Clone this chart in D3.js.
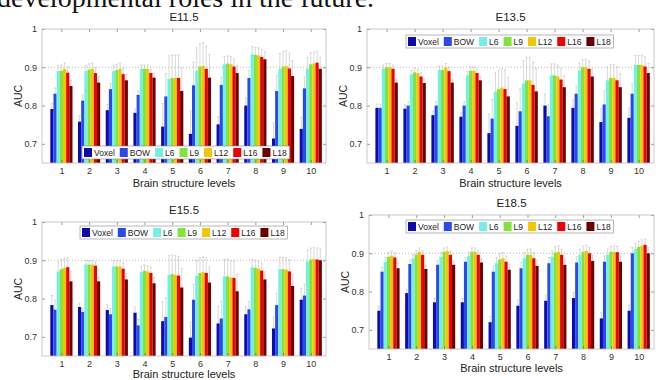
<!DOCTYPE html>
<html>
<head>
<meta charset="utf-8">
<script src="https://cdn.jsdelivr.net/npm/d3@7"></script>
<style>
  body { margin: 0; background: #fff; }
  svg text { font-family: "Liberation Sans", Arial, sans-serif; fill: #222; }
</style>
</head>
<body>
<svg id="fig" width="662" height="380"></svg>
<script>
// brain structure levels on the x axis
const levels = [1, 2, 3, 4, 5, 6, 7, 8, 9, 10];
const methods = ["Voxel", "BOW", "L6", "L9", "L12", "L16", "L18"];
const methodColors = ["#0b0bb0", "#2b48ee", "#72efe6", "#80e43c", "#f4c600", "#f00000", "#6a0000"];
const yTicks = [0.7, 0.8, 0.9, 1];

// AUC per method (rows) and level (columns)
const aucE11 = [
  [0.791, 0.758, 0.788, 0.781, 0.745, 0.726, 0.751, 0.800, 0.714, 0.739],
  [0.831, 0.813, 0.843, 0.828, 0.824, 0.853, 0.854, 0.872, 0.838, 0.845],
  [0.890, 0.890, 0.890, 0.896, 0.870, 0.891, 0.908, 0.934, 0.896, 0.896],
  [0.891, 0.894, 0.893, 0.896, 0.872, 0.902, 0.910, 0.932, 0.902, 0.908],
  [0.896, 0.896, 0.896, 0.896, 0.872, 0.904, 0.908, 0.931, 0.903, 0.910],
  [0.886, 0.885, 0.882, 0.885, 0.872, 0.896, 0.902, 0.927, 0.897, 0.912],
  [0.851, 0.860, 0.866, 0.873, 0.838, 0.873, 0.885, 0.921, 0.877, 0.896]
];
const aucE13 = [
  [0.794, 0.792, 0.775, 0.771, 0.728, 0.747, 0.800, 0.794, 0.757, 0.768],
  [0.794, 0.800, 0.800, 0.800, 0.766, 0.785, 0.772, 0.831, 0.803, 0.831],
  [0.896, 0.882, 0.893, 0.879, 0.837, 0.858, 0.879, 0.891, 0.866, 0.906],
  [0.900, 0.887, 0.893, 0.891, 0.843, 0.866, 0.879, 0.900, 0.872, 0.906],
  [0.900, 0.885, 0.900, 0.891, 0.847, 0.866, 0.876, 0.900, 0.872, 0.906],
  [0.896, 0.876, 0.890, 0.885, 0.843, 0.854, 0.868, 0.896, 0.866, 0.902],
  [0.860, 0.859, 0.860, 0.866, 0.824, 0.837, 0.848, 0.876, 0.848, 0.885]
];
const aucE15 = [
  [0.783, 0.778, 0.770, 0.763, 0.741, 0.698, 0.735, 0.759, 0.722, 0.797],
  [0.771, 0.765, 0.759, 0.730, 0.752, 0.797, 0.748, 0.772, 0.783, 0.808],
  [0.871, 0.889, 0.884, 0.869, 0.862, 0.860, 0.858, 0.882, 0.877, 0.897],
  [0.877, 0.889, 0.884, 0.873, 0.864, 0.867, 0.858, 0.880, 0.877, 0.902],
  [0.880, 0.889, 0.884, 0.871, 0.862, 0.869, 0.855, 0.878, 0.876, 0.903],
  [0.882, 0.886, 0.878, 0.867, 0.860, 0.867, 0.854, 0.873, 0.871, 0.902],
  [0.845, 0.845, 0.850, 0.840, 0.829, 0.842, 0.819, 0.850, 0.833, 0.900]
];
const aucE18 = [
  [0.750, 0.796, 0.772, 0.772, 0.720, 0.763, 0.776, 0.783, 0.730, 0.750],
  [0.852, 0.872, 0.870, 0.878, 0.852, 0.861, 0.874, 0.876, 0.878, 0.900],
  [0.878, 0.887, 0.891, 0.893, 0.874, 0.887, 0.891, 0.896, 0.896, 0.911],
  [0.891, 0.897, 0.904, 0.904, 0.884, 0.896, 0.902, 0.904, 0.904, 0.917],
  [0.894, 0.904, 0.906, 0.904, 0.887, 0.896, 0.904, 0.906, 0.903, 0.920],
  [0.889, 0.896, 0.896, 0.896, 0.878, 0.887, 0.896, 0.900, 0.903, 0.922],
  [0.861, 0.859, 0.870, 0.876, 0.857, 0.867, 0.870, 0.880, 0.878, 0.900]
];

// error bar half-widths per level
const errE11 = [0.015, 0.015, 0.015, 0.010, 0.060, 0.060, 0.020, 0.020, 0.040, 0.030];
const errE13 = [0.010, 0.010, 0.010, 0.010, 0.050, 0.060, 0.030, 0.020, 0.035, 0.025];
const errE15 = [0.025, 0.010, 0.015, 0.015, 0.050, 0.040, 0.045, 0.020, 0.030, 0.030];
const errE18 = [0.012, 0.010, 0.010, 0.010, 0.015, 0.015, 0.015, 0.015, 0.015, 0.015];

const panels = [
  {title: "E11.5", auc: aucE11, err: errE11, l: 42, r: 326, t: 29, b: 163, lx: 82, ly: 146, xlab: 24},
  {title: "E13.5", auc: aucE13, err: errE13, l: 367, r: 654, t: 29, b: 163, lx: 406, ly: 35, xlab: 24},
  {title: "E15.5", auc: aucE15, err: errE15, l: 42, r: 326, t: 222, b: 356, lx: 80, ly: 226, xlab: 22},
  {title: "E18.5", auc: aucE18, err: errE18, l: 369, r: 654, t: 215, b: 349, lx: 406, ly: 220, xlab: 23}
];

const svg = d3.select("#fig");

// caption line of the page above the figure, cut by the top edge
svg.append("text")
  .attr("x", -3).attr("y", 7)
  .style("font-family", "'Liberation Serif', 'DejaVu Serif', serif")
  .style("font-size", "28px")
  .style("fill", "#111")
  .text("developmental roles in the future.");

panels.forEach(function (p, pi) {
  const x = d3.scaleLinear().domain([0.3, 10.55]).range([p.l, p.r]);
  const y = d3.scaleLinear().domain([0.65, 1]).range([p.b, p.t]);
  const groupW = 0.8;
  const barW = groupW / methods.length;

  const g = svg.append("g");

  g.append("clipPath").attr("id", "clip" + pi)
    .append("rect")
    .attr("x", p.l).attr("y", p.t)
    .attr("width", p.r - p.l).attr("height", p.b - p.t);

  // dotted reference line at 0.9
  g.append("line")
    .attr("x1", p.l).attr("x2", p.r)
    .attr("y1", y(0.9)).attr("y2", y(0.9))
    .attr("stroke", "#999").attr("stroke-width", 0.7)
    .attr("stroke-dasharray", "1,2");

  const plot = g.append("g").attr("clip-path", "url(#clip" + pi + ")");

  methods.forEach(function (m, mi) {
    const off = (mi - (methods.length - 1) / 2) * barW;
    const vals = p.auc[mi];

    plot.selectAll(null)
      .data(levels)
      .enter().append("line")
      .attr("x1", (d) => x(d + off)).attr("x2", (d) => x(d + off))
      .attr("y1", (d, i) => y(vals[i]))
      .attr("y2", (d, i) => y(vals[i] + p.err[i]))
      .attr("stroke", "#bdbdbd").attr("stroke-width", 0.6);

    plot.selectAll(null)
      .data(levels)
      .enter().append("line")
      .attr("x1", (d) => x(d + off - barW * 0.35)).attr("x2", (d) => x(d + off + barW * 0.35))
      .attr("y1", (d, i) => y(vals[i] + p.err[i]))
      .attr("y2", (d, i) => y(vals[i] + p.err[i]))
      .attr("stroke", "#bdbdbd").attr("stroke-width", 0.6);

    plot.selectAll(null)
      .data(levels)
      .enter().append("rect")
      .attr("x", (d) => x(d + off - barW / 2))
      .attr("width", (d) => x(d + off + barW / 2) - x(d + off - barW / 2))
      .attr("y", (d, i) => y(vals[i]))
      .attr("height", (d, i) => p.b - y(vals[i]))
      .attr("fill", methodColors[mi]);
  });

  // axes, MATLAB style: ticks inward, box on
  const fmt = (d) => (d === 1 ? "1" : d3.format(".1f")(d));
  const yl = g.append("g").attr("transform", "translate(" + p.l + ",0)")
    .call(d3.axisLeft(y).tickValues(yTicks).tickSizeInner(-3).tickSizeOuter(0).tickPadding(5).tickFormat(fmt));
  const yr = g.append("g").attr("transform", "translate(" + p.r + ",0)")
    .call(d3.axisRight(y).tickValues(yTicks).tickSizeInner(-3).tickSizeOuter(0).tickFormat(""));
  const xb = g.append("g").attr("transform", "translate(0," + p.b + ")")
    .call(d3.axisBottom(x).tickValues(levels).tickSizeInner(-3).tickSizeOuter(0).tickPadding(5).tickFormat(d3.format("d")));
  const xt = g.append("g").attr("transform", "translate(0," + p.t + ")")
    .call(d3.axisTop(x).tickValues(levels).tickSizeInner(-3).tickSizeOuter(0).tickFormat(""));
  [yl, yr, xb, xt].forEach(function (a) {
    a.select(".domain").remove();
    a.selectAll("line").attr("stroke", "#555").attr("stroke-width", 0.6);
    a.selectAll("text").style("font-size", "9px").style("fill", "#333");
  });

  g.append("rect")
    .attr("x", p.l).attr("y", p.t)
    .attr("width", p.r - p.l).attr("height", p.b - p.t)
    .attr("fill", "none").attr("stroke", "#bbb").attr("stroke-width", 0.8);

  // titles and labels
  g.append("text")
    .attr("x", (p.l + p.r) / 2).attr("y", p.t - 8)
    .attr("text-anchor", "middle")
    .style("font-size", "11.5px")
    .text(p.title);
  g.append("text")
    .attr("x", (p.l + p.r) / 2).attr("y", p.b + p.xlab)
    .attr("text-anchor", "middle")
    .style("font-size", "11px")
    .text("Brain structure levels");
  g.append("text")
    .attr("transform", "translate(" + (p.l - 20) + "," + ((p.t + p.b) / 2) + ") rotate(-90)")
    .attr("text-anchor", "middle")
    .style("font-size", "10.5px")
    .text("AUC");

  // legend, one row
  const leg = g.append("g").attr("transform", "translate(" + p.lx + "," + p.ly + ")");
  const box = leg.append("rect").attr("fill", "#fff").attr("stroke", "#888").attr("stroke-width", 0.6);
  let cx = 2;
  methods.forEach(function (m, mi) {
    leg.append("rect")
      .attr("x", cx).attr("y", 2).attr("width", 8).attr("height", 9)
      .attr("fill", methodColors[mi]);
    const t = leg.append("text")
      .attr("x", cx + 10).attr("y", 9.8)
      .style("font-size", "8.5px")
      .text(m);
    cx += 10 + t.node().getComputedTextLength() + 5;
  });
  box.attr("width", cx - 2).attr("height", 13);
});
</script>
</body>
</html>
